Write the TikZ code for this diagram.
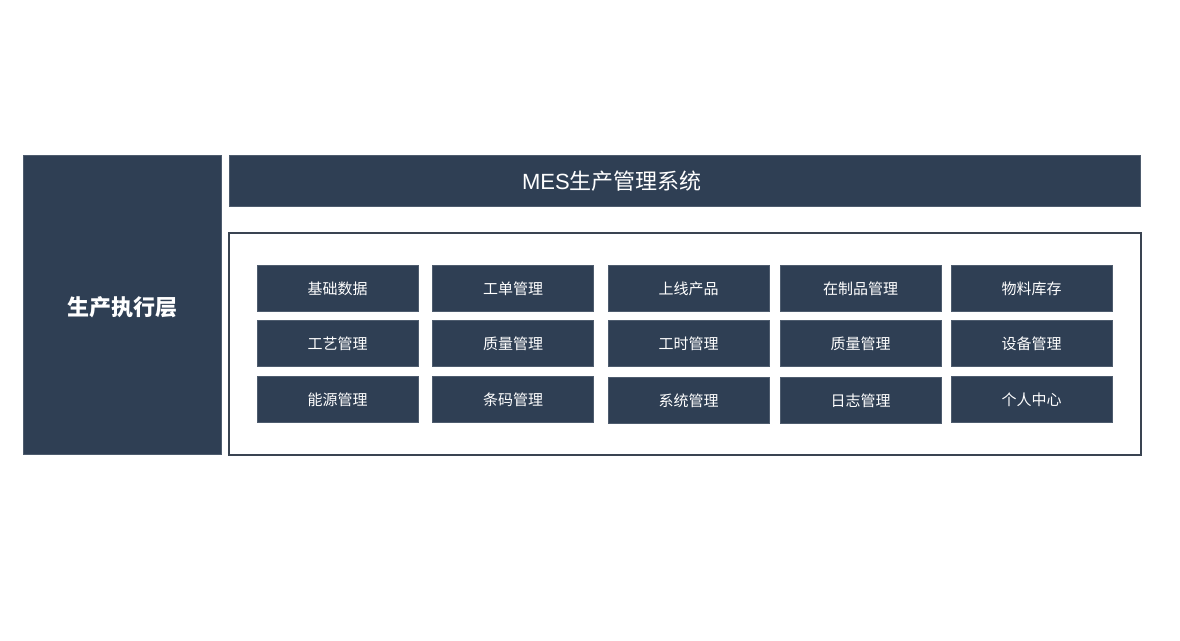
\documentclass[tikz,border=0pt]{standalone}
\usepackage{fontspec}
\setmainfont{Liberation Sans}
\newfontfamily\cjk{Noto Sans CJK SC}
\definecolor{navy}{HTML}{2F3F54}
\definecolor{frame}{HTML}{3A4452}
\tikzset{
  panel/.style={fill=navy, draw=navy!85!white, line width=0.8pt, inner sep=0pt},
  cell/.style={panel, minimum width=161pt, minimum height=46pt, text=white, font=\cjk\fontsize{15pt}{18pt}\selectfont},
}
\begin{document}
\begin{tikzpicture}[x=1pt,y=-1pt]
\useasboundingbox (0,0) rectangle (1180,640);
\fill[white] (0,0) rectangle (1180,640);
% left column
\node[panel, minimum width=198pt, minimum height=299pt] (layer) at (122,304.5) {};
\node[text=white, font=\cjk\bfseries\fontsize{22pt}{26pt}\selectfont] (layerlabel) at (122,307) {生产执行层};
% title bar
\node[panel, minimum width=911pt, minimum height=51pt] (title) at (684.5,180.5) {};
\node[text=white, font=\fontsize{22pt}{26pt}\selectfont] (titlelabel) at (612,181) {MES{\cjk 生产管理系统}};
% frame
\node[draw=frame, line width=1.3pt, minimum width=912pt, minimum height=222pt, inner sep=0pt] (frame) at (685,344) {};
% grid
\node[cell] (c11) at (337.5,288.5) {基础数据};
\node[cell] (c12) at (513,288.5) {工单管理};
\node[cell] (c13) at (688.5,288.5) {上线产品};
\node[cell] (c14) at (860.5,288.5) {在制品管理};
\node[cell] (c15) at (1031.5,288.5) {物料库存};
\node[cell] (c21) at (337.5,343.5) {工艺管理};
\node[cell] (c22) at (513,343.5) {质量管理};
\node[cell] (c23) at (688.5,343.5) {工时管理};
\node[cell] (c24) at (860.5,343.5) {质量管理};
\node[cell] (c25) at (1031.5,343.5) {设备管理};
\node[cell] (c31) at (337.5,399.5) {能源管理};
\node[cell] (c32) at (513,399.5) {条码管理};
\node[cell] (c33) at (688.5,400.5) {系统管理};
\node[cell] (c34) at (860.5,400.5) {日志管理};
\node[cell] (c35) at (1031.5,399.5) {个人中心};
\end{tikzpicture}
\end{document}
